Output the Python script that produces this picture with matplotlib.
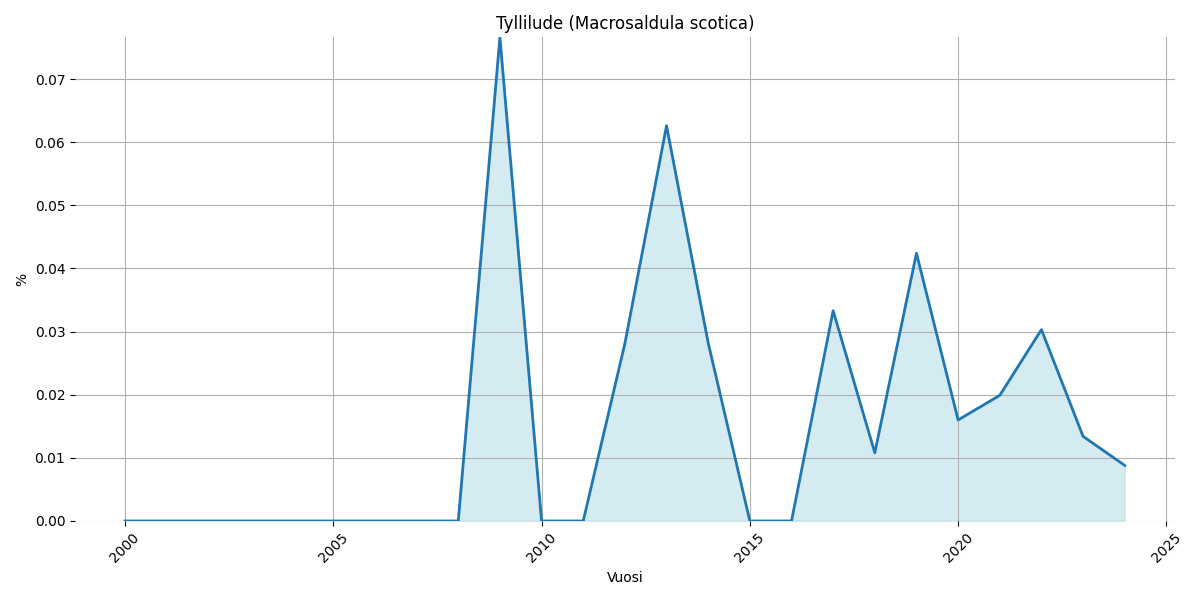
import matplotlib.pyplot as plt

years = list(range(2000, 2025))
values = [0, 0, 0, 0, 0, 0, 0, 0, 0,
          0.0766, 0, 0, 0.0281, 0.0626, 0.0282, 0, 0,
          0.0333, 0.0108, 0.0424, 0.0160, 0.0199, 0.0303, 0.0134, 0.0088]

fig, ax = plt.subplots(figsize=(12, 6), dpi=100)
ax.fill_between(years, values, color='lightblue', alpha=0.5)
ax.plot(years, values, color='#1f77b4', linewidth=2)
ax.set_ylim(0, max(values))
ax.set_title('Tyllilude (Macrosaldula scotica)')
ax.set_xlabel('Vuosi')
ax.set_ylabel('%')
ax.grid(True, color='#b0b0b0')
for s in ax.spines.values():
    s.set_visible(False)
plt.xticks(rotation=45)
fig.tight_layout()
fig.savefig('out.png')
